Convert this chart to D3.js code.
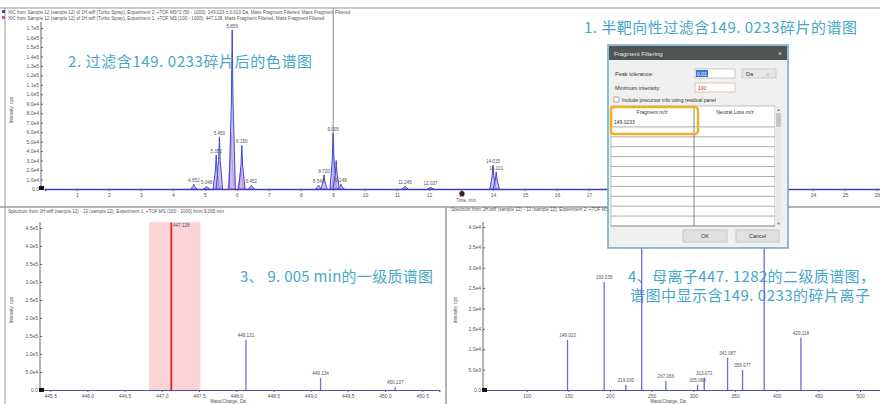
<!DOCTYPE html>
<html>
<head>
<meta charset="utf-8">
<script src="https://cdn.jsdelivr.net/npm/d3@7"></script>
<style>
body { margin: 0; background: #fff; }
svg { display: block; font-family: "Liberation Sans", Arial, sans-serif; }
.tick text { font-size: 5px; fill: #555; }
.tick line { stroke: #666; }
.small { font-size: 4.6px; fill: #555; }
.cn { font-family: "Noto Sans CJK SC", sans-serif; fill: #46a7c7; font-size: 15px; }
.dlg { font-size: 5.5px; fill: #333; }
</style>
</head>
<body>
<div id="chart"></div>
<script>
// top: XIC filtered by fragment 149.0233
var xicRT    = [4.65, 5.05, 5.35, 5.45, 5.85, 6.15, 6.45, 8.55, 8.72, 9.005, 9.10, 9.25, 11.25, 12.05, 14.0, 14.1];
var xicInt   = [5e3, 3e3, 3.6e4, 5.5e4, 1.68e5, 4.6e4, 4e3, 4e3, 1.5e4, 5.9e4, 3.0e4, 5e3, 3e3, 2e3, 2.5e4, 1.8e4];
var xicLabel = ["4.652", "5.048", "5.352", "5.450", "5.856", "6.150", "6.452", "8.548", "8.720", "9.005", "", "9.248", "11.245", "12.037", "14.015", "14.101"];
var xic2RT   = [5.40, 5.82, 6.12, 9.03];
var xic2Int  = [1.5e4, 6.0e4, 2.2e4, 1.4e4];
var timeTicks = [1, 2, 3, 4, 5, 6, 7, 8, 9, 10, 11, 12, 13, 14, 15, 16, 17, 18, 19, 20, 21, 22, 23, 24, 25, 26];
var topYTicks = [0, 1e4, 2e4, 3e4, 4e4, 5e4, 6e4, 7e4, 8e4, 9e4, 1e5, 1.1e5, 1.2e5, 1.3e5, 1.4e5, 1.5e5, 1.6e5, 1.7e5];
var topYLabels = ["0.0", "1.0e4", "2.0e4", "3.0e4", "4.0e4", "5.0e4", "6.0e4", "7.0e4", "8.0e4", "9.0e4",
                  "1.0e5", "1.1e5", "1.2e5", "1.3e5", "1.4e5", "1.5e5", "1.6e5", "1.7e5"];
var selectedRT = 9.005;

// bottom left: MS1 at 9.005 min
var ms1Mz    = [447.128, 448.131, 449.134, 450.137];
var ms1Int   = [4.65e5, 1.39e5, 3.3e4, 8e3];
var ms1Label = ["447.128", "448.131", "449.134", "450.137"];
var ms1Window = [446.83, 447.52];
var ms1XTicks = [445.5, 446.0, 446.5, 447.0, 447.5, 448.0, 448.5, 449.0, 449.5, 450.0, 450.5];
var ms1YTicks = [0, 5e4, 1e5, 1.5e5, 2e5, 2.5e5, 3e5, 3.5e5, 4e5, 4.5e5];
var ms1YLabels = ["0.0", "5.0e4", "1.0e5", "1.5e5", "2.0e5", "2.5e5", "3.0e5", "3.5e5", "4.0e5", "4.5e5"];

// bottom right: MS/MS of 447.1282
var ms2Mz    = [149.023, 193.035, 219.030, 238.050, 267.066, 305.066, 313.071, 341.087, 359.077, 385.092, 429.118];
var ms2Int   = [1.23e4, 2.65e4, 1.2e3, 4.2e4, 2.2e3, 1.3e3, 3.0e3, 7.9e3, 4.9e3, 4.2e4, 1.28e4];
var ms2Label = ["149.023", "193.035", "219.030", "238.050", "267.066", "305.066", "313.071", "341.087", "359.077", "385.092", "429.118"];
var ms2XTicks = [100, 150, 200, 250, 300, 350, 400, 450, 500];
var ms2YTicks = [0, 5e3, 1e4, 1.5e4, 2e4, 2.5e4, 3e4, 3.5e4, 4e4];
var ms2YLabels = ["0.0", "5.0e3", "1.0e4", "1.5e4", "2.0e4", "2.5e4", "3.0e4", "3.5e4", "4.0e4"];

// dialog table
var fragmentRows = ["149.0233", "", "", "", "", "", "", "", "", "", ""];

var svg = d3.select("#chart").append("svg")
    .attr("width", 880)
    .attr("height", 404);

// panel frames
svg.append("line").attr("x1", 0).attr("x2", 880).attr("y1", 8).attr("y2", 8).style("stroke", "#9a9a9a");
svg.append("line").attr("x1", 0).attr("x2", 880).attr("y1", 207).attr("y2", 207).style("stroke", "#9a9a9a").style("stroke-width", 1.5);
svg.append("line").attr("x1", 446).attr("x2", 446).attr("y1", 207).attr("y2", 404).style("stroke", "#9a9a9a").style("stroke-width", 1.5);
svg.append("line").attr("x1", 5).attr("x2", 5).attr("y1", 8).attr("y2", 404).style("stroke", "#9a9a9a");

// header lines
svg.append("rect").attr("x", 2).attr("y", 10).attr("width", 3).attr("height", 3).style("fill", "#3d3dc8");
svg.append("rect").attr("x", 2).attr("y", 16).attr("width", 3).attr("height", 3).style("fill", "#d04ab0");
svg.append("text").attr("class", "small").attr("x", 8).attr("y", 13.5)
  .text("XIC from Sample 12 (sample 12) of 1H.wiff (Turbo Spray), Experiment 2, +TOF MS^2 (50 - 1000): 149.023 \u00b1 0.010 Da, Mass Fragment Filtered, Mass Fragment Filtered");
svg.append("text").attr("class", "small").attr("x", 8).attr("y", 19.5)
  .text("XIC from Sample 12 (sample 12) of 1H.wiff (Turbo Spray), Experiment 1, +TOF MS (100 - 1000): 447.128, Mass Fragment Filtered, Mass Fragment Filtered");

// ---------- top chromatogram ----------
var xT = d3.scaleLinear().domain([0, 26.2]).range([45, 883.4]);
var yT = d3.scaleLinear().domain([0, 1.7e5]).range([189, 28]);

var gTop = svg.append("g");
var topX = gTop.append("g")
    .attr("transform", "translate(0,189)")
    .call(d3.axisBottom(xT).tickValues(timeTicks).tickSize(2).tickPadding(2).tickFormat(function(d) { return d; }));
topX.select(".domain").style("stroke", "#3c3cc0").style("stroke-width", 1.6);

var topY = gTop.append("g")
    .attr("transform", "translate(43,0)")
    .call(d3.axisLeft(yT).tickValues(topYTicks).tickSize(2).tickPadding(2)
      .tickFormat(function(d, i) { return topYLabels[i]; }));
topY.select(".domain").style("stroke", "#666");
topY.select(".domain").attr("d", "M-2,22V189");

gTop.append("text").attr("class", "small")
    .attr("transform", "translate(13,110) rotate(-90)")
    .attr("text-anchor", "middle")
    .text("Intensity, cps");

gTop.append("line")
    .attr("x1", xT(selectedRT)).attr("x2", xT(selectedRT))
    .attr("y1", 8).attr("y2", 189)
    .style("stroke", "#8a8a8a");

var peakW = 0.1;
function peakPath(rt, h) {
  return "M" + xT(rt - peakW) + "," + yT(0) +
         "L" + xT(rt - peakW / 4) + "," + yT(h * 0.55) +
         "L" + xT(rt) + "," + yT(h) +
         "L" + xT(rt + peakW / 4) + "," + yT(h * 0.55) +
         "L" + xT(rt + peakW) + "," + yT(0) + "Z";
}

gTop.selectAll(".pk2").data(xic2RT).enter().append("path")
    .attr("d", function(d, i) { return peakPath(d, xic2Int[i]); })
    .style("fill", "#f3b8e0").style("fill-opacity", 0.6)
    .style("stroke", "#e24fb5").style("stroke-width", 0.9);

gTop.selectAll(".pk").data(xicRT).enter().append("path")
    .attr("d", function(d, i) { return peakPath(d, xicInt[i]); })
    .style("fill", "#b3b1ee").style("fill-opacity", 0.7)
    .style("stroke", "#4545cc").style("stroke-width", 1);

gTop.selectAll(".pl").data(xicRT).enter().append("text")
    .attr("class", "small")
    .attr("x", function(d) { return xT(d); })
    .attr("y", function(d, i) { return yT(xicInt[i]) - 2; })
    .attr("text-anchor", "middle")
    .text(function(d, i) { return xicLabel[i]; });

gTop.append("rect").attr("x", 39).attr("y", 186).attr("width", 5).attr("height", 4).style("fill", "#111");
gTop.append("circle").attr("cx", xT(13.03)).attr("cy", 193.5).attr("r", 2.6).style("fill", "#3b1c38");
gTop.append("text").attr("class", "small").attr("x", 466).attr("y", 202).attr("text-anchor", "middle").text("Time, min");

gTop.append("text").attr("class", "cn")
    .attr("x", 68).attr("y", 67)
    .attr("textLength", 244).attr("lengthAdjust", "spacing")
    .text("2. 过滤含149. 0233碎片后的色谱图");
gTop.append("text").attr("class", "cn")
    .attr("x", 584).attr("y", 33)
    .attr("textLength", 273).attr("lengthAdjust", "spacing")
    .text("1. 半靶向性过滤含149. 0233碎片的谱图");

// ---------- bottom left MS1 ----------
var xL = d3.scaleLinear().domain([445.39, 450.73]).range([42, 439.3]);
var yL = d3.scaleLinear().domain([0, 4.5e5]).range([390, 228]);
var gL = svg.append("g");

gL.append("text").attr("class", "small").attr("x", 8).attr("y", 213)
  .text("Spectrum from 1H.wiff (sample 12) - 12 (sample 12), Experiment 1, +TOF MS (100 - 1000) from 9.005 min");

gL.append("rect")
    .attr("x", xL(ms1Window[0])).attr("y", 222)
    .attr("width", xL(ms1Window[1]) - xL(ms1Window[0]))
    .attr("height", 390 - 222)
    .style("fill", "#fcd3d6");

var lX = gL.append("g").attr("transform", "translate(0,390)")
    .call(d3.axisBottom(xL).tickValues(ms1XTicks).tickSize(2).tickPadding(2).tickFormat(d3.format(".1f")));
lX.select(".domain").style("stroke", "#4a4ab8").style("stroke-width", 1.2);
var lY = gL.append("g").attr("transform", "translate(42,0)")
    .call(d3.axisLeft(yL).tickValues(ms1YTicks).tickSize(2).tickPadding(2)
      .tickFormat(function(d, i) { return ms1YLabels[i]; }));
lY.select(".domain").style("stroke", "#666").attr("d", "M-2,222V390");

gL.selectAll(".ms1").data(ms1Mz).enter().append("line")
    .attr("x1", function(d) { return xL(d); })
    .attr("x2", function(d) { return xL(d); })
    .attr("y1", yL(0))
    .attr("y2", function(d, i) { return yL(ms1Int[i]); })
    .style("stroke", function(d, i) { return i == 0 ? "#e0262b" : "#6c6cdc"; })
    .style("stroke-width", function(d, i) { return i == 0 ? 1.8 : 1.3; });

gL.selectAll(".ms1l").data(ms1Mz).enter().append("text")
    .attr("class", "small")
    .attr("x", function(d, i) { return xL(d) + (i == 0 ? 10 : 0); })
    .attr("y", function(d, i) { return yL(ms1Int[i]) - 3 + (i == 0 ? 7 : 0); })
    .attr("text-anchor", "middle")
    .text(function(d, i) { return ms1Label[i]; });

gL.append("rect").attr("x", 39).attr("y", 388).attr("width", 5).attr("height", 4).style("fill", "#111");
gL.append("text").attr("class", "small")
    .attr("transform", "translate(13,310) rotate(-90)")
    .attr("text-anchor", "middle").text("Intensity, cps");
gL.append("text").attr("class", "small").attr("x", 228).attr("y", 403).attr("text-anchor", "middle").text("Mass/Charge, Da");

gL.append("text").attr("class", "cn")
    .attr("x", 240).attr("y", 282)
    .attr("textLength", 193).attr("lengthAdjust", "spacing")
    .text("3、 9. 005 min的一级质谱图");

// ---------- bottom right MS2 ----------
var xR = d3.scaleLinear().domain([50, 524]).range([485, 880]);
var yR = d3.scaleLinear().domain([0, 4e4]).range([390, 227]);
var gR = svg.append("g");

gR.append("text").attr("class", "small").attr("x", 451).attr("y", 211)
  .text("Spectrum from 1H.wiff (sample 12) - 12 (sample 12), Experiment 2, +TOF MS^2 (50 - 1000) from 9.008 min, Precursor: 447.1 Da, CE: 35.0 (0) 13");

var rX = gR.append("g").attr("transform", "translate(0,390)")
    .call(d3.axisBottom(xR).tickValues(ms2XTicks).tickSize(2).tickPadding(2).tickFormat(d3.format("d")));
rX.select(".domain").style("stroke", "#4a4ab8").style("stroke-width", 1.2);
var rY = gR.append("g").attr("transform", "translate(485,0)")
    .call(d3.axisLeft(yR).tickValues(ms2YTicks).tickSize(2).tickPadding(2)
      .tickFormat(function(d, i) { return ms2YLabels[i]; }));
rY.select(".domain").style("stroke", "#666").attr("d", "M-2,222V390");

gR.append("text").attr("class", "cn")
    .attr("x", 628).attr("y", 282)
    .attr("textLength", 247).attr("lengthAdjust", "spacing")
    .text("4、母离子447. 1282的二级质谱图，");
gR.append("text").attr("class", "cn")
    .attr("x", 630).attr("y", 301)
    .attr("textLength", 240).attr("lengthAdjust", "spacing")
    .text("谱图中显示含149. 0233的碎片离子");

gR.selectAll(".ms2").data(ms2Mz).enter().append("line")
    .attr("x1", function(d) { return xR(d); })
    .attr("x2", function(d) { return xR(d); })
    .attr("y1", yR(0))
    .attr("y2", function(d, i) { return yR(ms2Int[i]); })
    .style("stroke", "#6c6cdc")
    .style("stroke-width", 1.3);

gR.selectAll(".ms2l").data(ms2Mz).enter().append("text")
    .attr("class", "small")
    .attr("x", function(d) { return xR(d); })
    .attr("y", function(d, i) { return yR(ms2Int[i]) - 3; })
    .attr("text-anchor", "middle")
    .text(function(d, i) { return ms2Label[i]; });

gR.append("rect").attr("x", 482).attr("y", 388).attr("width", 5).attr("height", 4).style("fill", "#111");
gR.append("text").attr("class", "small")
    .attr("transform", "translate(457,310) rotate(-90)")
    .attr("text-anchor", "middle").text("Intensity, cps");
gR.append("text").attr("class", "small").attr("x", 668).attr("y", 403).attr("text-anchor", "middle").text("Mass/Charge, Da");

// ---------- Fragment Filtering dialog ----------
var dlg = svg.append("g");
dlg.append("rect").attr("x", 608).attr("y", 45).attr("width", 180).attr("height", 203)
    .style("fill", "#f0f0f0").style("stroke", "#6fa9bd").style("stroke-width", 1.5);
dlg.append("rect").attr("x", 609).attr("y", 46).attr("width", 178).attr("height", 14).style("fill", "#4f5553");
dlg.append("text").attr("x", 614).attr("y", 55.5).style("font-size", "6px").style("fill", "#e8e8e8").text("Fragment Filtering");
dlg.append("text").attr("x", 778).attr("y", 56).style("font-size", "7px").style("fill", "#ddd").text("\u00d7");

dlg.append("text").attr("class", "dlg").attr("x", 615).attr("y", 76).text("Peak tolerance:");
dlg.append("rect").attr("x", 695).attr("y", 69).attr("width", 40).attr("height", 9).style("fill", "#fff").style("stroke", "#a8a8a8").style("stroke-width", 0.6);
dlg.append("rect").attr("x", 696).attr("y", 70).attr("width", 12).attr("height", 7).style("fill", "#3a78d4");
dlg.append("text").attr("x", 697).attr("y", 75.8).style("font-size", "5px").style("fill", "#fff").text("0.01");
dlg.append("rect").attr("x", 742).attr("y", 69).attr("width", 34).attr("height", 9).style("fill", "#e6e6e6").style("stroke", "#bbb").style("stroke-width", 0.6);
dlg.append("text").attr("class", "dlg").attr("x", 746).attr("y", 76).text("Da");
dlg.append("text").attr("x", 766).attr("y", 76).style("font-size", "5px").style("fill", "#aaa").text("\u2228");

dlg.append("text").attr("class", "dlg").attr("x", 615).attr("y", 90).text("Minimum intensity:");
dlg.append("rect").attr("x", 695).attr("y", 83).attr("width", 40).attr("height", 9).style("fill", "#fff").style("stroke", "#e6a7a2").style("stroke-width", 0.7);
dlg.append("text").attr("x", 698).attr("y", 89.8).style("font-size", "5px").style("fill", "#9b3030").text("100");

dlg.append("rect").attr("x", 614).attr("y", 97).attr("width", 5).attr("height", 5).style("fill", "#fff").style("stroke", "#666").style("stroke-width", 0.5);
dlg.append("text").attr("class", "dlg").attr("x", 622).attr("y", 102).style("font-size", "5px").text("Include precursor info using residual panel");

// table
dlg.append("rect").attr("x", 611).attr("y", 106).attr("width", 164).attr("height", 120).style("fill", "#fff").style("stroke", "#999").style("stroke-width", 0.6);
dlg.append("rect").attr("x", 775).attr("y", 106).attr("width", 7).attr("height", 120).style("fill", "#e9e9e9");
dlg.append("rect").attr("x", 776).attr("y", 113).attr("width", 5).attr("height", 14).style("fill", "#c6c6c6");
dlg.append("text").attr("x", 778.5).attr("y", 111).attr("text-anchor", "middle").style("font-size", "4px").style("fill", "#777").text("\u25b2");
dlg.append("text").attr("x", 778.5).attr("y", 225).attr("text-anchor", "middle").style("font-size", "4px").style("fill", "#777").text("\u25bc");
dlg.append("line").attr("x1", 694).attr("x2", 694).attr("y1", 106).attr("y2", 226).style("stroke", "#555").style("stroke-width", 0.7);
dlg.append("text").attr("class", "dlg").attr("x", 652).attr("y", 114).attr("text-anchor", "middle").style("font-size", "5px").text("Fragment m/z");
dlg.append("text").attr("class", "dlg").attr("x", 735).attr("y", 114).attr("text-anchor", "middle").style("font-size", "5px").text("Neutral Loss m/z");

var rowY = d3.scaleLinear().domain([0, fragmentRows.length]).range([117, 226]);
dlg.selectAll(".row").data(fragmentRows).enter().append("line")
    .attr("x1", 611).attr("x2", 775)
    .attr("y1", function(d, i) { return rowY(i + 1); })
    .attr("y2", function(d, i) { return rowY(i + 1); })
    .style("stroke", "#777").style("stroke-width", 0.6);
dlg.selectAll(".rowt").data(fragmentRows).enter().append("text")
    .attr("class", "dlg")
    .attr("x", 614)
    .attr("y", function(d, i) { return rowY(i) + 7; })
    .style("font-size", "5px")
    .text(function(d) { return d; });

dlg.append("rect").attr("x", 611).attr("y", 107).attr("width", 87).attr("height", 27).attr("rx", 3)
    .style("fill", "none").style("stroke", "#f0b024").style("stroke-width", 2.5);

dlg.append("rect").attr("x", 683).attr("y", 230).attr("width", 44).attr("height", 12).style("fill", "#e1e1e1").style("stroke", "#adadad").style("stroke-width", 0.6);
dlg.append("text").attr("class", "dlg").attr("x", 705).attr("y", 238).attr("text-anchor", "middle").text("OK");
dlg.append("rect").attr("x", 736).attr("y", 230).attr("width", 43).attr("height", 12).style("fill", "#e1e1e1").style("stroke", "#adadad").style("stroke-width", 0.6);
dlg.append("text").attr("class", "dlg").attr("x", 757.5).attr("y", 238).attr("text-anchor", "middle").text("Cancel");
</script>
</body>
</html>
